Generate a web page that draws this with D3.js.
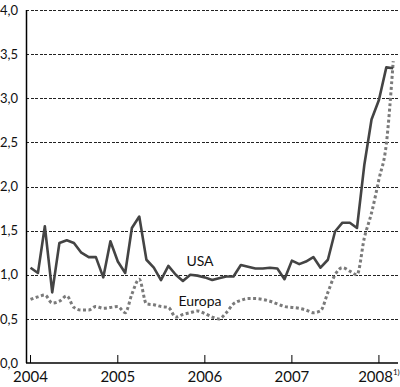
<!DOCTYPE html>
<html>
<head>
<meta charset="utf-8">
<script src="https://cdn.jsdelivr.net/npm/d3@7"></script>
<style>
  body { margin: 0; background: #fff; }
  svg { display: block; font-family: Lato, "Open Sans", sans-serif; }
  .grid line { stroke: #222; stroke-width: 1; stroke-dasharray: 3,1.5; shape-rendering: crispEdges; }
</style>
</head>
<body>
<div id="chart"></div>
<script>
// monthly values, Jan 2004 .. Mar 2008
var firstMonth = new Date(2004, 0, 1);
var lastMonth = new Date(2008, 2, 1);

var usa = [1.08, 1.02, 1.55, 0.80, 1.36, 1.39, 1.36, 1.25, 1.20, 1.20, 0.97, 1.38,
           1.15, 1.02, 1.53, 1.66, 1.17, 1.08, 0.94, 1.10, 1.00, 0.93, 1.00, 0.99,
           0.97, 0.94, 0.96, 0.98, 0.98, 1.11, 1.09, 1.07, 1.07, 1.08, 1.07, 0.95,
           1.16, 1.12, 1.15, 1.20, 1.08, 1.17, 1.49, 1.59, 1.59, 1.53, 2.25, 2.76,
           2.98, 3.35, 3.34];

var europa = [0.72, 0.75, 0.77, 0.68, 0.70, 0.76, 0.63, 0.60, 0.60, 0.64, 0.62, 0.63,
              0.64, 0.57, 0.78, 0.95, 0.67, 0.66, 0.64, 0.63, 0.52, 0.55, 0.57, 0.59,
              0.56, 0.52, 0.50, 0.57, 0.67, 0.71, 0.73, 0.73, 0.72, 0.70, 0.67, 0.64,
              0.63, 0.62, 0.60, 0.57, 0.59, 0.80, 1.00, 1.08, 1.04, 1.00, 1.42, 1.70,
              2.08, 2.48, 3.42];

var yTicks = [0, 0.5, 1, 1.5, 2, 2.5, 3, 3.5, 4];
var yearTicks = [2004, 2005, 2006, 2007, 2008];

var width = 400, height = 387;
var margin = { top: 10, right: 2, bottom: 24, left: 26 };

var months = d3.timeMonth.range(firstMonth, d3.timeMonth.offset(lastMonth, 1));

var svg = d3.select("#chart").append("svg")
    .attr("width", width)
    .attr("height", height);

var x = d3.scaleTime()
    .domain([new Date(2003, 11, 13), new Date(2008, 2, 21)])
    .range([margin.left, width - margin.right]);

var y = d3.scaleLinear()
    .domain([0, 4])
    .range([height - margin.bottom, margin.top]);

// dashed horizontal grid
svg.append("g")
    .attr("class", "grid")
    .selectAll("line")
    .data(yTicks.filter(function (d) { return d > 0; }))
    .enter().append("line")
    .attr("x1", margin.left)
    .attr("x2", width)
    .attr("y1", function (d) { return Math.round(y(d)) + 0.5; })
    .attr("y2", function (d) { return Math.round(y(d)) + 0.5; });

// y labels
svg.append("g")
    .selectAll("text")
    .data(yTicks)
    .enter().append("text")
    .attr("x", 0)
    .attr("y", function (d) { return y(d); })
    .attr("dy", "0.36em")
    .attr("font-size", 13)
    .attr("fill", "#111")
    .text(function (d) { return d3.format(".1f")(d).replace(".", ","); });

// axes lines
svg.append("line")
    .attr("x1", margin.left + 0.5).attr("x2", margin.left + 0.5)
    .attr("y1", y(4)).attr("y2", y(0))
    .attr("stroke", "#000").attr("stroke-width", 1.5);

svg.append("line")
    .attr("x1", margin.left).attr("x2", width - margin.right)
    .attr("y1", y(0)).attr("y2", y(0))
    .attr("stroke", "#000").attr("stroke-width", 1.5);

// year ticks pointing inward
var yearG = svg.append("g")
    .selectAll("g")
    .data(yearTicks)
    .enter().append("g")
    .attr("transform", function (d) { return "translate(" + x(new Date(d, 0, 1)) + ",0)"; });

yearG.append("line")
    .attr("y1", y(0)).attr("y2", y(0) - 8)
    .attr("stroke", "#000").attr("stroke-width", 1);

var yearText = yearG.append("text")
    .attr("y", y(0) + 19)
    .attr("text-anchor", "middle")
    .attr("font-size", 15)
    .attr("fill", "#111")
    .text(function (d) { return d; });

yearText.filter(function (d) { return d === 2008; })
    .append("tspan")
    .attr("font-size", 8)
    .attr("dy", -7)
    .text("1)");

// series
var usaLine = d3.line()
    .x(function (d, i) { return x(months[i]); })
    .y(function (d) { return y(d); });

var euLine = d3.line()
    .curve(d3.curveMonotoneX)
    .x(function (d, i) { return x(months[i]); })
    .y(function (d) { return y(d); });

svg.append("path")
    .datum(europa)
    .attr("fill", "none")
    .attr("stroke", "#7a7a7a")
    .attr("stroke-width", 3)
    .attr("stroke-dasharray", "3,2.5")
    .attr("d", euLine);

svg.append("path")
    .datum(usa)
    .attr("fill", "none")
    .attr("stroke", "#444")
    .attr("stroke-width", 2.6)
    .attr("stroke-linejoin", "round")
    .attr("d", usaLine);

// series labels
svg.append("text")
    .attr("x", 200).attr("y", 266)
    .attr("text-anchor", "middle")
    .attr("font-size", 14)
    .attr("fill", "#111")
    .text("USA");

svg.append("text")
    .attr("x", 200).attr("y", 306)
    .attr("text-anchor", "middle")
    .attr("font-size", 14)
    .attr("fill", "#111")
    .text("Europa");
</script>
</body>
</html>
